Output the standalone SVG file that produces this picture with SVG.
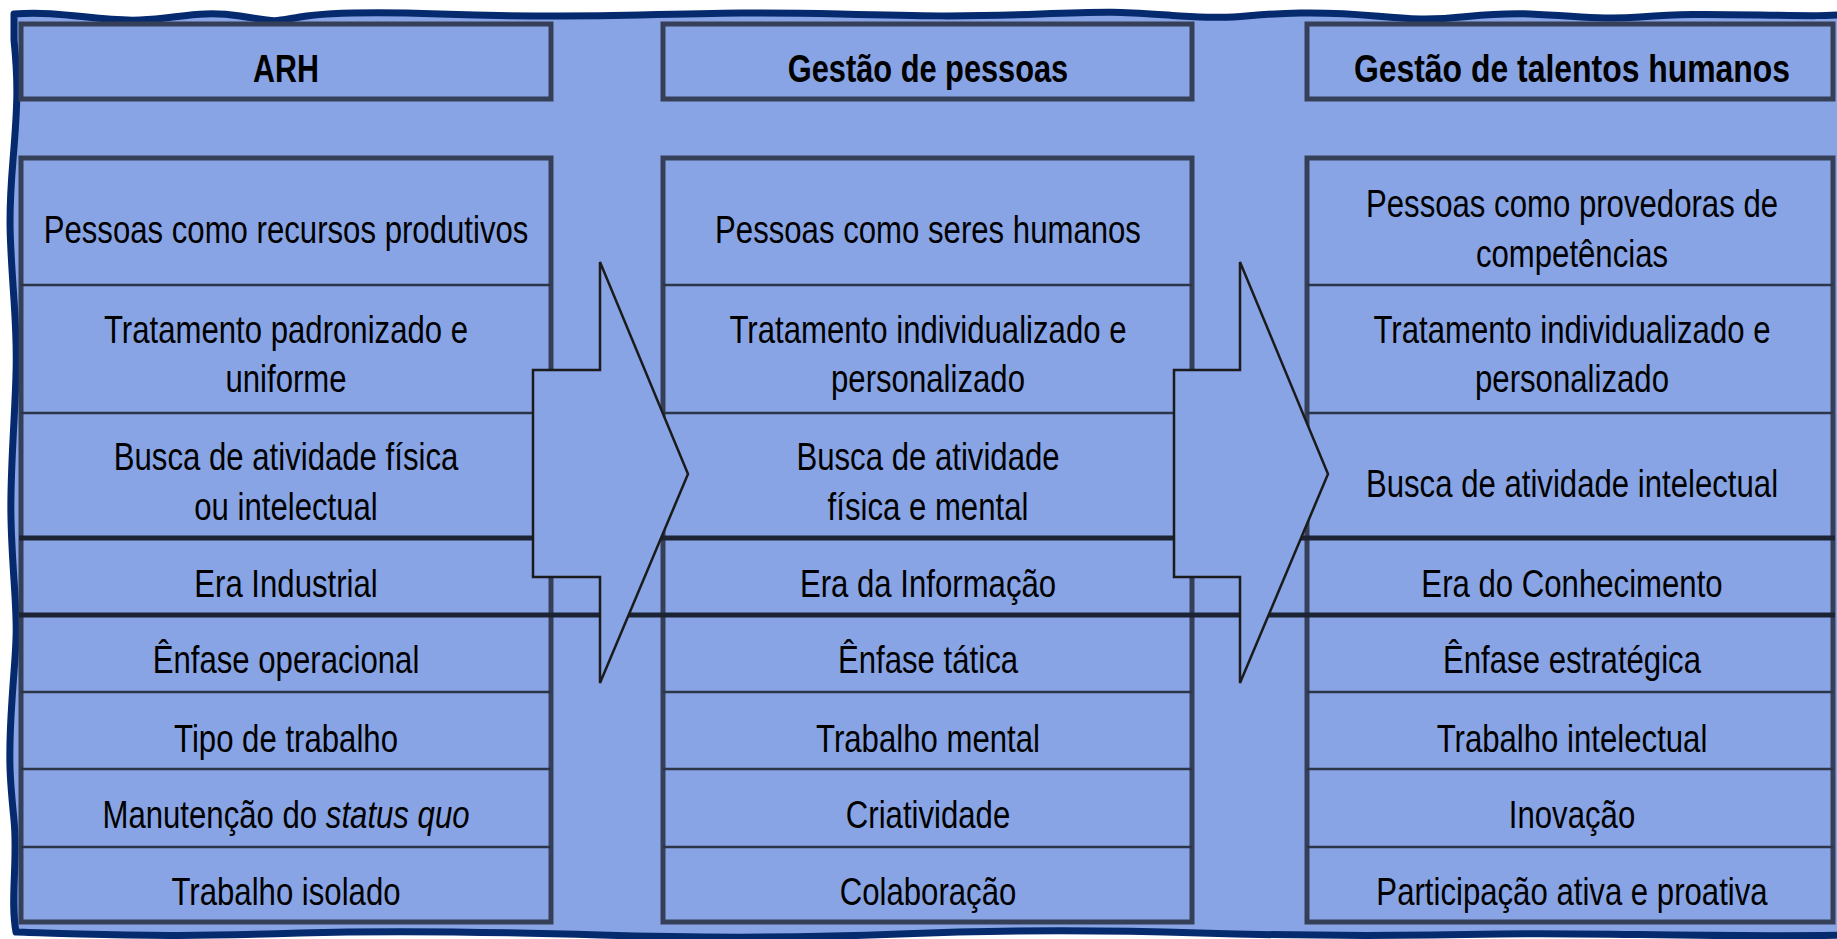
<svg xmlns="http://www.w3.org/2000/svg" width="1837" height="939" viewBox="0 0 1837 939">
<style>
.frame{fill:#88A4E4;stroke:#062a6e;stroke-width:7;stroke-linejoin:round}
.box{fill:#88A4E4;stroke:#363f58;stroke-width:5}
.div{stroke:#2c3548;stroke-width:2.5}
.thick{stroke:#1c2333;stroke-width:5}
.arrow{fill:#88A4E4;stroke:#1b1b1b;stroke-width:2.5;stroke-linejoin:miter}
.t{font-family:"Liberation Sans",Arial,sans-serif;font-size:38px;fill:#000;text-anchor:middle}
.h{font-weight:bold}
</style>
<rect x="0" y="0" width="1837" height="939" fill="#ffffff"/>
<path class="frame" d="M 14,14 C 60,10 100,22 140,20 S 200,10 240,16 S 270,22 300,17 S 380,12 440,14 S 560,17 640,15 S 760,12 840,14 S 960,17 1040,14 S 1120,12 1180,16 S 1240,14 1300,13 S 1380,18 1420,19 S 1480,12 1530,14 S 1600,20 1640,17 S 1700,14 1760,15 S 1820,16 1860,14 L 1860,935 C 1700,938 1600,932 1500,934 S 1300,936 1200,933 S 1000,930 900,934 S 700,938 600,935 S 400,930 300,933 S 150,936 80,934 S 30,932 16,932 C 10,900 18,860 14,820 S 8,760 12,700 S 18,640 14,580 S 10,500 13,440 S 18,360 14,300 S 8,220 13,160 S 18,80 14,40 Z"/>

<g id="arh-header">
<rect class="box" x="21" y="24" width="530" height="75"/>
<text class="t h" transform="translate(286,82) scale(0.8,1)">ARH</text>
</g>
<g id="gp-header">
<rect class="box" x="663" y="24" width="529" height="75"/>
<text class="t h" transform="translate(928,82) scale(0.81,1)">Gestão de pessoas</text>
</g>
<g id="gth-header">
<rect class="box" x="1307" y="24" width="526" height="75"/>
<text class="t h" transform="translate(1572,82) scale(0.84,1)">Gestão de talentos humanos</text>
</g>

<g id="arh-body">
<rect class="box" x="21" y="158" width="530" height="764"/>
<line class="div" x1="21" y1="285" x2="551" y2="285"/>
<line class="div" x1="21" y1="413" x2="551" y2="413"/>
<line class="div" x1="21" y1="692" x2="551" y2="692"/>
<line class="div" x1="21" y1="769" x2="551" y2="769"/>
<line class="div" x1="21" y1="847" x2="551" y2="847"/>
<text class="t" transform="translate(286,243) scale(0.82,1)">Pessoas como recursos produtivos</text>
<text class="t" transform="translate(286,343) scale(0.82,1)">Tratamento padronizado e</text>
<text class="t" transform="translate(286,392) scale(0.82,1)">uniforme</text>
<text class="t" transform="translate(286,470) scale(0.82,1)">Busca de atividade física</text>
<text class="t" transform="translate(286,520) scale(0.82,1)">ou intelectual</text>
<text class="t" transform="translate(286,597) scale(0.82,1)">Era Industrial</text>
<text class="t" transform="translate(286,673) scale(0.82,1)">Ênfase operacional</text>
<text class="t" transform="translate(286,752) scale(0.82,1)">Tipo de trabalho</text>
<text class="t" transform="translate(286,828) scale(0.82,1)">Manutenção do <tspan font-style="italic">status quo</tspan></text>
<text class="t" transform="translate(286,905) scale(0.82,1)">Trabalho isolado</text>
</g>

<g id="gp-body">
<rect class="box" x="663" y="158" width="529" height="764"/>
<line class="div" x1="663" y1="285" x2="1192" y2="285"/>
<line class="div" x1="663" y1="413" x2="1192" y2="413"/>
<line class="div" x1="663" y1="692" x2="1192" y2="692"/>
<line class="div" x1="663" y1="769" x2="1192" y2="769"/>
<line class="div" x1="663" y1="847" x2="1192" y2="847"/>
<text class="t" transform="translate(928,243) scale(0.82,1)">Pessoas como seres humanos</text>
<text class="t" transform="translate(928,343) scale(0.82,1)">Tratamento individualizado e</text>
<text class="t" transform="translate(928,392) scale(0.82,1)">personalizado</text>
<text class="t" transform="translate(928,470) scale(0.82,1)">Busca de atividade</text>
<text class="t" transform="translate(928,520) scale(0.82,1)">física e mental</text>
<text class="t" transform="translate(928,597) scale(0.82,1)">Era da Informação</text>
<text class="t" transform="translate(928,673) scale(0.82,1)">Ênfase tática</text>
<text class="t" transform="translate(928,752) scale(0.82,1)">Trabalho mental</text>
<text class="t" transform="translate(928,828) scale(0.82,1)">Criatividade</text>
<text class="t" transform="translate(928,905) scale(0.82,1)">Colaboração</text>
</g>

<g id="gth-body">
<rect class="box" x="1307" y="158" width="526" height="764"/>
<line class="div" x1="1307" y1="285" x2="1833" y2="285"/>
<line class="div" x1="1307" y1="413" x2="1833" y2="413"/>
<line class="div" x1="1307" y1="692" x2="1833" y2="692"/>
<line class="div" x1="1307" y1="769" x2="1833" y2="769"/>
<line class="div" x1="1307" y1="847" x2="1833" y2="847"/>
<text class="t" transform="translate(1572,217) scale(0.82,1)">Pessoas como provedoras de</text>
<text class="t" transform="translate(1572,267) scale(0.82,1)">competências</text>
<text class="t" transform="translate(1572,343) scale(0.82,1)">Tratamento individualizado e</text>
<text class="t" transform="translate(1572,392) scale(0.82,1)">personalizado</text>
<text class="t" transform="translate(1572,497) scale(0.82,1)">Busca de atividade intelectual</text>
<text class="t" transform="translate(1572,597) scale(0.82,1)">Era do Conhecimento</text>
<text class="t" transform="translate(1572,673) scale(0.82,1)">Ênfase estratégica</text>
<text class="t" transform="translate(1572,752) scale(0.82,1)">Trabalho intelectual</text>
<text class="t" transform="translate(1572,828) scale(0.82,1)">Inovação</text>
<text class="t" transform="translate(1572,905) scale(0.82,1)">Participação ativa e proativa</text>
</g>

<g id="era-lines">
<line class="thick" x1="19" y1="538" x2="1835" y2="538"/>
<line class="thick" x1="19" y1="615" x2="1835" y2="615"/>
</g>

<g id="connectors">
<polygon class="arrow" points="533,370 600,370 600,262 688,474 600,683 600,577 533,577"/>
<polygon class="arrow" points="1174,370 1240,370 1240,262 1328,474 1240,683 1240,577 1174,577"/>
</g>
</svg>
